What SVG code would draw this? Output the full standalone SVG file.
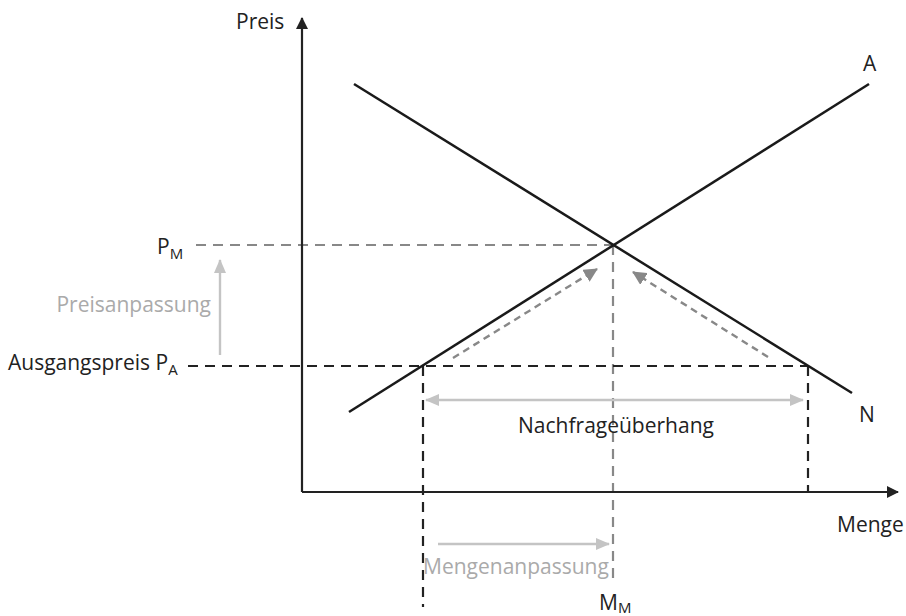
<svg xmlns="http://www.w3.org/2000/svg" width="906" height="616" viewBox="0 0 906 616">
<style>
text{font-family:"Open Sans","Noto Sans","Liberation Sans",sans-serif;font-size:21px;fill:#222}
.lg{fill:#aaa}
.sub{font-size:15px}
.ax{stroke:#222;stroke-width:2.2;fill:none}
.curve{stroke:#1a1a1a;stroke-width:2.5;fill:none}
.dk{stroke:#222;stroke-width:2.2;stroke-dasharray:10 7;fill:none}
.gr{stroke:#888;stroke-width:2.2;stroke-dasharray:10 7;fill:none}
.ga{stroke:#888;stroke-width:2.4;stroke-dasharray:7 5;fill:none}
.la{stroke:#c4c4c4;stroke-width:2.4;fill:none}
</style>
<defs>
<marker id="ah" markerWidth="12" markerHeight="12" refX="11" refY="6" orient="auto" markerUnits="userSpaceOnUse" viewBox="0 0 12 12"><path d="M0,0 L12,6 L0,12 Z" fill="#222"/></marker>
<marker id="ahg" markerWidth="14" markerHeight="14" refX="13" refY="7" orient="auto" markerUnits="userSpaceOnUse" viewBox="0 0 14 14"><path d="M0,0 L14,7 L0,14 Z" fill="#888"/></marker>
<marker id="ahl" markerWidth="14" markerHeight="12" refX="13" refY="6" orient="auto" markerUnits="userSpaceOnUse" viewBox="0 0 14 12"><path d="M0,0 L14,6 L0,12 Z" fill="#c4c4c4"/></marker>
<marker id="ahls" markerWidth="14" markerHeight="12" refX="1" refY="6" orient="auto" markerUnits="userSpaceOnUse" viewBox="0 0 14 12"><path d="M14,0 L0,6 L14,12 Z" fill="#c4c4c4"/></marker>
</defs>
<g id="connectors">
<line class="gr" x1="196" y1="245" x2="613" y2="245"/>
<line class="gr" x1="613" y1="245" x2="613" y2="582"/>
<line class="dk" x1="188" y1="366" x2="808" y2="366"/>
<line class="dk" x1="423" y1="366" x2="423" y2="607"/>
<line class="dk" x1="808" y1="366" x2="808" y2="492"/>
<line class="ax" x1="302" y1="492" x2="302" y2="18" marker-end="url(#ah)"/>
<line class="ax" x1="302" y1="492" x2="898" y2="492" marker-end="url(#ah)"/>
<line class="curve" x1="349" y1="412" x2="869" y2="84"/>
<line class="curve" x1="354" y1="84" x2="852" y2="393"/>
<line class="ga" x1="453" y1="358" x2="597" y2="269" marker-end="url(#ahg)"/>
<line class="ga" x1="768" y1="357" x2="633" y2="272" marker-end="url(#ahg)"/>
<line class="la" x1="220" y1="355" x2="220" y2="260" marker-end="url(#ahl)"/>
<line class="la" x1="426" y1="400" x2="803" y2="400" marker-start="url(#ahls)" marker-end="url(#ahl)"/>
<line class="la" x1="438" y1="544" x2="609" y2="544" marker-end="url(#ahl)"/>
</g>
<g id="labels">
<text x="236" y="29">Preis</text>
<text x="863" y="71">A</text>
<text x="859" y="422">N</text>
<text x="837" y="532">Menge</text>
<text x="157" y="254">P<tspan class="sub" dy="5">M</tspan></text>
<text x="8" y="370">Ausgangspreis P<tspan class="sub" dy="5">A</tspan></text>
<text class="lg" x="211" y="312" text-anchor="end">Preisanpassung</text>
<text x="616" y="433" text-anchor="middle">Nachfrageüberhang</text>
<text class="lg" x="423" y="574">Mengenanpassung</text>
<text x="599" y="610">M<tspan class="sub" dy="3">M</tspan></text>
</g>
</svg>
